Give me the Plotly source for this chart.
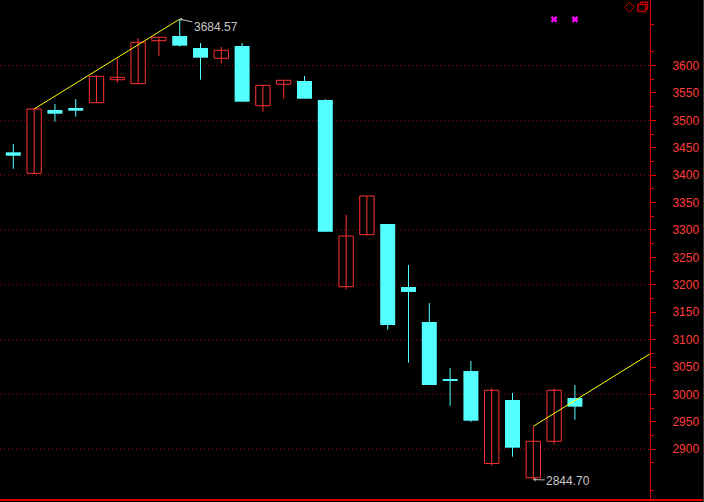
import plotly.graph_objects as go

# ---------------- data ----------------
idx = list(range(28))
opens = [3441.6, 3403.3, 3518.8, 3522.4, 3532.1, 3574.0, 3566.8, 3645.2, 3653.7, 3631.9,
         3613.1, 3635.5, 3526.6, 3565.7, 3571.7, 3537.0, 3196.5, 3291.4, 3310.9, 3196.0,
         3132.1, 3028.2, 3042.8, 2874.1, 2989.9, 2848.0, 2914.6, 2993.5]
highs = [3456.8, 3520.6, 3529.7, 3538.8, 3582.0, 3613.1, 3650.1, 3651.4, 3684.57, 3641.0,
         3633.7, 3641.0, 3563.8, 3573.0, 3580.8, 3538.8, 3327.3, 3361.9, 3310.9, 3236.1,
         3166.8, 3048.2, 3061.0, 3011.8, 3002.6, 2941.9, 3011.2, 3017.2]
lows = [3411.7, 3401.5, 3497.4, 3506.6, 3532.1, 3568.6, 3566.8, 3617.8, 3634.2, 3574.0,
        3603.2, 3533.9, 3515.7, 3539.4, 3539.4, 3296.8, 3191.8, 3289.5, 3118.1, 3057.9,
        3017.2, 2979.5, 2949.7, 2870.0, 2886.5, 2844.70, 2909.1, 2953.9]
closes = [3435.4, 3520.6, 3512.0, 3517.5, 3580.2, 3578.4, 3642.3, 3651.4, 3636.1, 3614.2,
          3627.7, 3533.9, 3563.8, 3573.0, 3539.4, 3296.8, 3289.0, 3361.9, 3126.7, 3186.9,
          3017.2, 3024.5, 2952.1, 3007.6, 2902.9, 2914.6, 3007.6, 2977.7]

trend1_x = [1, 8]
trend1_y = [3520.6, 3684.57]
trend2_x = [25, 30.6]
trend2_y = [2941.9, 3073.8]

high_label = (8, 3684.57, "3684.57")
low_label = (25, 2844.70, "2844.70")

signal_x = [26, 27]
signal_y = [3684.0, 3684.0]

y_ticks = list(range(2900, 3601, 50))
grid_levels = list(range(2900, 3601, 100))
y_range = [2807.5, 3719.4]
x_range = [-0.64, 30.61]

# ---------------- styles ----------------
UP = "#ff3232"
DOWN = "#54ffff"
AXIS_RED = "#e00000"
GRID_RED = "#a80000"
LABEL_RED = "#ff3c3c"
W, H = 704, 502
PLOT_W, PLOT_H = 650, 500

fig = go.Figure()

up_i = [i for i in idx if closes[i] >= opens[i]]
dn_i = [i for i in idx if closes[i] < opens[i]]


def wick_xy(ids):
    xs, ys = [], []
    for i in ids:
        xs += [i, i, None]
        ys += [lows[i], highs[i], None]
    return xs, ys


for ids, col in ((up_i, UP), (dn_i, DOWN)):
    wx, wy = wick_xy(ids)
    fig.add_trace(go.Scatter(x=wx, y=wy, mode="lines",
                             line=dict(color=col, width=1),
                             hoverinfo="skip", showlegend=False))

fig.add_trace(go.Bar(
    x=up_i,
    y=[closes[i] - opens[i] for i in up_i],
    base=[opens[i] for i in up_i],
    width=0.69,
    marker=dict(color="#000000", line=dict(color=UP, width=1)),
    hoverinfo="skip", showlegend=False))

fig.add_trace(go.Bar(
    x=dn_i,
    y=[opens[i] - closes[i] for i in dn_i],
    base=[closes[i] for i in dn_i],
    width=0.72,
    marker=dict(color=DOWN, line=dict(color=DOWN, width=0)),
    hoverinfo="skip", showlegend=False))

for tx, ty in ((trend1_x, trend1_y), (trend2_x, trend2_y)):
    fig.add_trace(go.Scatter(x=tx, y=ty, mode="lines",
                             line=dict(color="#ffff00", width=1),
                             hoverinfo="skip", showlegend=False))

fig.add_trace(go.Scatter(x=signal_x, y=signal_y, mode="markers",
                         marker=dict(symbol="x", size=6, color="#ff00ff",
                                     line=dict(width=0)),
                         hoverinfo="skip", showlegend=False))

# annotations for extremes
for (ax_, ay_), (lx, ly, lt) in (((36, 8), high_label), ((35, 1), low_label)):
    fig.add_annotation(x=lx, y=ly, text=lt, showarrow=True,
                       ax=ax_, ay=ay_, arrowcolor="#c0c0c0", arrowwidth=1,
                       arrowhead=1, arrowsize=0.7, standoff=0,
                       font=dict(family="Liberation Sans", size=12, color="#c8c8c8"))

shapes = []
for g in grid_levels:
    shapes.append(dict(type="line", xref="paper", yref="y", x0=0, x1=1, y0=g, y1=g,
                       line=dict(color=GRID_RED, width=1, dash="1px,3px"), layer="below"))

# bottom axis line extended across the whole window
shapes.append(dict(type="line", xref="paper", yref="paper", x0=0, x1=W / PLOT_W,
                   y0=0, y1=0, line=dict(color=AXIS_RED, width=2)))
# right border
shapes.append(dict(type="line", xref="paper", yref="paper", x0=703.5 / PLOT_W, x1=703.5 / PLOT_W,
                   y0=-2 / PLOT_H, y1=1, line=dict(color="#3a3a3a", width=1)))


def px(xp):
    return xp / PLOT_W


def py(yp):
    return 1 - yp / PLOT_H


# diamond icon
cx, cy, hw, hh = 629.5, 7.3, 4.5, 5.2
shapes.append(dict(type="path", xref="paper", yref="paper",
                   path=f"M {px(cx)} {py(cy-hh)} L {px(cx+hw)} {py(cy)} L {px(cx)} {py(cy+hh)} L {px(cx-hw)} {py(cy)} Z",
                   line=dict(color="#c00000", width=1)))
# double-square icon
shapes.append(dict(type="rect", xref="paper", yref="paper",
                   x0=px(640.5), x1=px(647.5), y0=py(2.2), y1=py(9.3),
                   line=dict(color="#c00000", width=1.5), fillcolor="#000000"))
shapes.append(dict(type="rect", xref="paper", yref="paper",
                   x0=px(638), x1=px(645.5), y0=py(4.5), y1=py(11.5),
                   line=dict(color="#c00000", width=1.5), fillcolor="#000000"))

fig.update_layout(
    width=W, height=H, autosize=False,
    margin=dict(l=0, r=W - PLOT_W, t=0, b=H - PLOT_H),
    paper_bgcolor="#000000", plot_bgcolor="#000000",
    barmode="overlay", showlegend=False,
    shapes=shapes,
    xaxis=dict(range=x_range, showgrid=False, zeroline=False, showticklabels=False,
               ticks="", showline=False, fixedrange=True),
    yaxis=dict(range=y_range, side="right", showgrid=False, zeroline=False,
               tickvals=y_ticks, ticks="outside", ticklen=5, tickcolor=AXIS_RED,
               tickwidth=1, showline=True, linecolor=AXIS_RED, linewidth=1,
               ticklabelstandoff=14, automargin=False,
               tickfont=dict(family="Liberation Sans", size=12, color=LABEL_RED),
               minor=dict(tickvals=[v + 25 for v in range(2800, 3701, 50)],
                          ticks="outside", ticklen=3, tickcolor=AXIS_RED, showgrid=False),
               fixedrange=True),
)

fig.write_html("out.html", config={"displayModeBar": False},
               post_script="document.body.style.margin='0px';document.body.style.background='#000';")
